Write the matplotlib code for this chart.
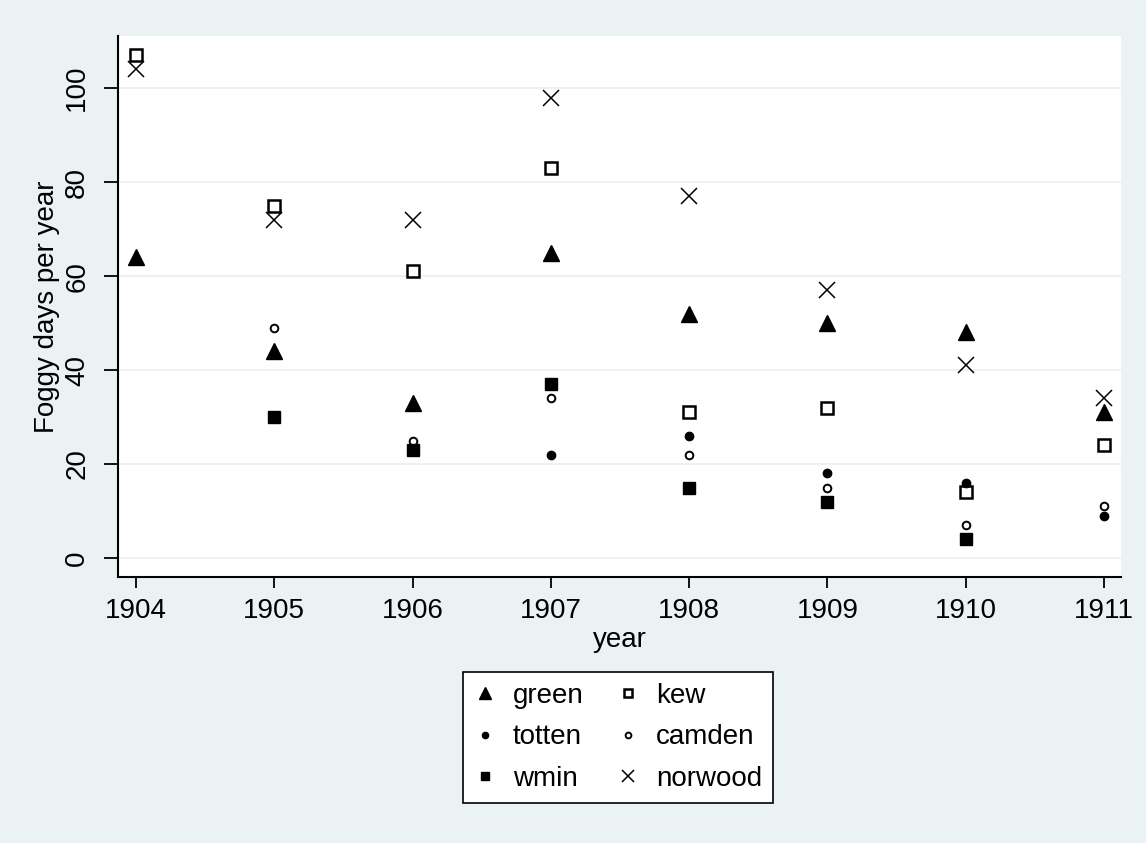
import numpy as np
import matplotlib
matplotlib.use("Agg")
import matplotlib.pyplot as plt

plt.rcParams['font.family'] = ['Liberation Sans', 'DejaVu Sans']

years = [1904, 1905, 1906, 1907, 1908, 1909, 1910, 1911]
nan = np.nan
green   = [64, 44, 33, 65, 52, 50, 48, 31]
kew     = [107, 75, 61, 83, 31, 32, 14, 24]
totten  = [nan, nan, nan, 22, 26, 18, 16, 9]
camden  = [nan, 49, 25, 34, 22, 15, 7, 11]
wmin    = [nan, 30, 23, 37, 15, 12, 4, nan]
norwood = [104, 72, 72, 98, 77, 57, 41, 34]

yticks = [0, 20, 40, 60, 80, 100]
bg = '#EAF2F3'

fig = plt.figure(figsize=(11.46, 8.43), dpi=100)
fig.patch.set_facecolor(bg)
ax = fig.add_axes([118/1146, 1-577/843, (1121-118)/1146, (577-36)/843])
ax.set_facecolor('white')

for y in yticks:
    ax.axhline(y, color=bg, lw=1.5, zorder=0)

ax.plot(years, green, ls='none', marker='^', ms=11, color='black', label='green')
ax.plot(years, kew, ls='none', marker='s', ms=8.5, mfc='white', mec='black', mew=1.8, label='kew')
ax.plot(years, totten, ls='none', marker='o', ms=6, color='black', label='totten')
ax.plot(years, camden, ls='none', marker='o', ms=5.5, mfc='white', mec='black', mew=1.4, label='camden')
ax.plot(years, wmin, ls='none', marker='s', ms=8, color='black', label='wmin')
ax.plot(years, norwood, ls='none', marker='x', ms=11, mec='black', mew=1.1, label='norwood')

ax.set_xlim(1903.870, 1911.123)
ax.set_ylim(-4.04, 111.1)
ax.set_xticks(years)
ax.set_xticklabels([str(y) for y in years])
ax.set_yticks(yticks)
ax.set_yticklabels([str(y) for y in yticks], rotation=90, va='center')

for s in ['top', 'right']:
    ax.spines[s].set_visible(False)
for s in ['left', 'bottom']:
    ax.spines[s].set_linewidth(1.5)
    ax.spines[s].set_color('black')
ax.tick_params(axis='both', labelsize=20, width=1.3, length=8, colors='black')
ax.tick_params(axis='x', pad=7)
ax.tick_params(axis='y', length=10, pad=10)

ax.set_xlabel('year', fontsize=20, labelpad=2)
ax.set_ylabel('Foggy days per year', fontsize=20, labelpad=3)

handles_map = {h.get_label(): h for h in ax.get_lines() if not h.get_label().startswith('_')}
order = ['green', 'totten', 'wmin', 'kew', 'camden', 'norwood']
leg = fig.legend([handles_map[k] for k in order], order, loc='upper center',
                 bbox_to_anchor=(618/1146, 1-672/843), ncol=2, fontsize=20,
                 frameon=True, fancybox=False, edgecolor='black', facecolor='white',
                 framealpha=1, borderaxespad=0,
                 markerscale=0.75, handlelength=0.8, handletextpad=0.6,
                 columnspacing=1.2, labelspacing=0.55, borderpad=0.4)
leg.get_frame().set_linewidth(1.2)

fig.savefig('out.png', dpi=100, facecolor=bg)
